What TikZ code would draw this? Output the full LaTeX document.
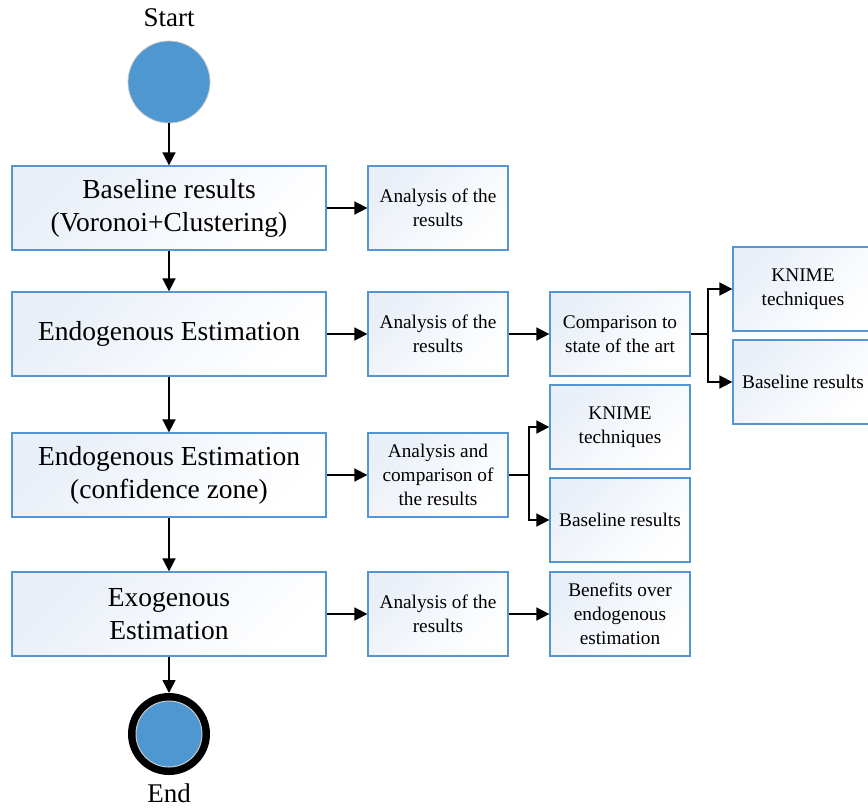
\documentclass[tikz,border=0pt]{standalone}
\usepackage{fontspec}
\setmainfont{Liberation Serif}
\usetikzlibrary{arrows.meta}
\definecolor{boxline}{RGB}{84,150,212}
\definecolor{boxtint}{RGB}{233,239,248}
\definecolor{dotblue}{RGB}{78,151,209}
\definecolor{ringgray}{RGB}{200,200,200}
\tikzset{
  anybox/.style={draw=boxline, line width=1.3pt, top color=boxtint, bottom color=white, shading angle=45, align=center, inner sep=0pt},
  mainbox/.style={anybox, minimum width=314pt, minimum height=84pt, font=\fontsize{27.5}{33}\selectfont},
  smallbox/.style={anybox, minimum width=140pt, minimum height=84pt, font=\fontsize{19.3}{24}\selectfont},
  arr/.style={line width=1.7pt, -{Triangle[length=13pt,width=13pt]}},
  lbl/.style={font=\fontsize{27}{32}\selectfont, inner sep=0pt}
}
\begin{document}
\begin{tikzpicture}[x=1pt,y=-1pt]
\useasboundingbox (0,0) rectangle (868,807);
% start
\node[lbl, anchor=base] (starttxt) at (169,26) {Start};
\node[circle, fill=dotblue, draw=ringgray, line width=0.8pt, minimum size=82pt, inner sep=0pt] (start) at (169,82) {};
% main column
\node[mainbox] (b1) at (169,208) {Baseline results\\(Voronoi+Clustering)};
\node[mainbox] (b2) at (169,334) {Endogenous Estimation};
\node[mainbox] (b3) at (169,475) {Endogenous Estimation\\(confidence zone)};
\node[mainbox] (b4) at (169,614) {Exogenous\\Estimation};
% end
\node[circle, draw=black, line width=8pt, minimum size=74pt, inner sep=0pt] (end) at (169,734) {};
\node[circle, fill=dotblue, draw=ringgray, line width=1pt, minimum size=66pt, inner sep=0pt] (endin) at (169,734) {};
\node[lbl, anchor=base] (endtxt) at (169,802) {End};
% second column
\node[smallbox] (a1) at (438,208) {Analysis of the\\results};
\node[smallbox] (a2) at (438,334) {Analysis of the\\results};
\node[smallbox] (a3) at (438,475) {Analysis and\\comparison of\\the results};
\node[smallbox] (a4) at (438,614) {Analysis of the\\results};
% third column
\node[smallbox] (cmp) at (620,334) {Comparison to\\state of the art};
\node[smallbox] (k3) at (620,427) {KNIME\\techniques};
\node[smallbox] (bl3) at (620,520) {Baseline results};
\node[smallbox] (ben) at (620,614) {Benefits over\\endogenous\\estimation};
% fourth column
\node[smallbox] (k2) at (803,289) {KNIME\\techniques};
\node[smallbox] (bl2) at (803,382) {Baseline results};
% junctions
\coordinate (j2) at (708,334);
\coordinate (j3) at (529,475);
% vertical arrows
\draw[arr] (start.south) -- (b1.north);
\draw[arr] (b1.south) -- (b2.north);
\draw[arr] (b2.south) -- (b3.north);
\draw[arr] (b3.south) -- (b4.north);
\draw[arr] (b4.south) -- (end.north);
% horizontal arrows
\draw[arr] (b1.east) -- (a1.west);
\draw[arr] (b2.east) -- (a2.west);
\draw[arr] (b3.east) -- (a3.west);
\draw[arr] (b4.east) -- (a4.west);
\draw[arr] (a2.east) -- (cmp.west);
\draw[arr] (a4.east) -- (ben.west);
% branches
\draw[line width=1.7pt] (cmp.east) -- (j2);
\draw[arr] (j2) |- (k2.west);
\draw[arr] (j2) |- (bl2.west);
\draw[line width=1.7pt] (a3.east) -- (j3);
\draw[arr] (j3) |- (k3.west);
\draw[arr] (j3) |- (bl3.west);
\end{tikzpicture}
\end{document}
